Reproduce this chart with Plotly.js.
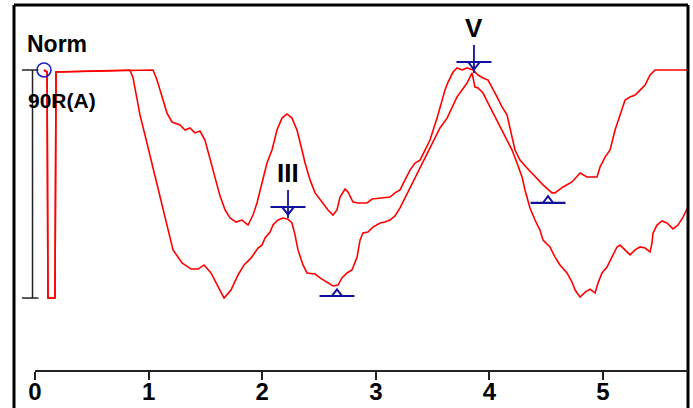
<!DOCTYPE html>
<html>
<head>
<meta charset="utf-8">
<script src="https://cdn.plot.ly/plotly-3.0.1.min.js"></script>
<style>html,body{margin:0;padding:0;background:#fff;}#chart{width:693px;height:408px;}</style>
</head>
<body>
<div id="chart"></div>
<script>
// Time (ms) and normalized amplitude (1 = Norm level, 0 = bottom of 90R(A) scale bar)
var timeA = [0.079,0.106,0.114,0.176,0.185,1.039,1.074,1.127,1.162,1.206,1.276,1.320,1.364,1.408,1.452,1.496,1.540,1.585,1.629,1.673,1.717,1.769,1.822,1.875,1.919,1.954,1.998,2.042,2.086,2.130,2.174,2.218,2.262,2.306,2.350,2.377,2.421,2.465,2.526,2.579,2.623,2.658,2.685,2.729,2.755,2.799,2.843,2.923,2.967,3.037,3.125,3.169,3.213,3.257,3.301,3.345,3.389,3.433,3.477,3.539,3.583,3.609,3.636,3.680,3.715,3.759,3.803,3.856,3.900,3.944,3.988,4.023,4.067,4.111,4.155,4.225,4.269,4.331,4.401,4.472,4.551,4.577,4.648,4.727,4.798,4.859,4.947,4.974,5.018,5.062,5.106,5.150,5.194,5.238,5.282,5.326,5.370,5.414,5.458,5.748];
var ampA  = [1.0,0.991,0,0,0.991,1.0,0.956,0.868,0.811,0.772,0.759,0.737,0.746,0.724,0.732,0.693,0.614,0.526,0.447,0.386,0.351,0.333,0.342,0.320,0.364,0.417,0.504,0.592,0.649,0.737,0.789,0.807,0.789,0.737,0.649,0.592,0.518,0.461,0.421,0.386,0.364,0.386,0.443,0.478,0.465,0.421,0.417,0.417,0.434,0.439,0.443,0.461,0.474,0.518,0.561,0.592,0.605,0.649,0.693,0.789,0.868,0.912,0.947,0.991,1.009,1.0,1.009,1.0,0.978,0.965,0.956,0.925,0.882,0.838,0.803,0.649,0.605,0.570,0.531,0.496,0.461,0.461,0.487,0.509,0.548,0.531,0.531,0.575,0.618,0.649,0.737,0.803,0.868,0.882,0.890,0.912,0.934,0.978,1.0,1.0];

var timeB = [0.079,0.106,0.114,0.176,0.185,0.836,0.863,0.889,0.924,0.968,1.012,1.056,1.100,1.144,1.188,1.215,1.294,1.373,1.435,1.488,1.549,1.611,1.664,1.725,1.787,1.840,1.901,1.963,1.998,2.025,2.069,2.095,2.139,2.183,2.227,2.262,2.289,2.315,2.359,2.394,2.465,2.509,2.579,2.623,2.667,2.702,2.746,2.790,2.835,2.861,2.887,2.931,2.975,3.037,3.081,3.125,3.169,3.213,3.257,3.301,3.345,3.389,3.433,3.477,3.521,3.565,3.627,3.671,3.715,3.759,3.803,3.847,3.873,3.900,3.944,3.988,4.032,4.067,4.199,4.243,4.287,4.313,4.357,4.401,4.445,4.472,4.533,4.577,4.621,4.683,4.727,4.754,4.798,4.842,4.886,4.930,4.956,4.991,5.035,5.079,5.123,5.150,5.194,5.238,5.282,5.326,5.370,5.414,5.431,5.440,5.475,5.519,5.563,5.616,5.660,5.704,5.748];
var ampB  = [1.0,0.991,0,0,0.991,1.0,0.965,0.890,0.803,0.715,0.627,0.539,0.452,0.364,0.276,0.211,0.154,0.127,0.127,0.145,0.110,0.048,0.0,0.035,0.101,0.145,0.175,0.219,0.232,0.263,0.289,0.320,0.342,0.351,0.346,0.329,0.276,0.211,0.145,0.110,0.105,0.088,0.066,0.053,0.057,0.088,0.110,0.123,0.180,0.254,0.285,0.289,0.311,0.329,0.333,0.342,0.360,0.395,0.439,0.482,0.526,0.570,0.614,0.658,0.702,0.746,0.789,0.838,0.882,0.912,0.943,0.987,0.925,0.921,0.899,0.855,0.811,0.781,0.649,0.592,0.531,0.474,0.395,0.342,0.298,0.254,0.224,0.180,0.145,0.110,0.070,0.035,0.004,0.026,0.039,0.022,0.066,0.110,0.136,0.180,0.224,0.232,0.211,0.189,0.211,0.224,0.219,0.202,0.241,0.285,0.320,0.338,0.329,0.303,0.320,0.355,0.399];

var peakLabels = ["III", "V"];
var peakTime   = [2.227, 3.864];
var peakAmp    = [0.399, 1.035];
var troughTime = [2.658, 4.516];
var troughAmp  = [0.009, 0.417];
var normTime = [0.079];
var normAmp  = [1.0];
var tickVals = [0, 1, 2, 3, 4, 5];
var tickText = ["0", "1", "2", "3", "4", "5"];

// layout geometry
var W = 693, H = 408;
var mL = 14, mR = 5, mT = 5, mB = 37;
var xRange = [-0.185, 5.748];
var yRange = [-0.320, 1.285];
var plotH = H - mT - mB;
var dyPx = (yRange[1] - yRange[0]) / plotH; // amplitude per pixel

var blue = "#10109c";
var red = "#ff0000";

function shift(arr, px) { return arr.map(function (v) { return v + px * dyPx; }); }

var traces = [
  {x: timeA, y: ampA, mode: "lines", line: {color: red, width: 1.6}, hoverinfo: "skip"},
  {x: timeB, y: ampB, mode: "lines", line: {color: red, width: 1.6}, hoverinfo: "skip"},
  // peak markers
  {x: peakTime, y: peakAmp, mode: "markers", marker: {symbol: "line-ew", size: 25, color: blue, line: {color: blue, width: 2}}},
  {x: peakTime, y: shift(peakAmp, 3), mode: "markers", marker: {symbol: "line-ns", size: 20, color: blue, line: {color: blue, width: 1.8}}},
  {x: peakTime, y: shift(peakAmp, -2.5), mode: "markers", marker: {symbol: "triangle-down-open", size: 10, color: blue, line: {color: blue, width: 2}}},
  // trough markers
  {x: troughTime, y: troughAmp, mode: "markers", marker: {symbol: "line-ew", size: 25, color: blue, line: {color: blue, width: 2.2}}},
  {x: troughTime, y: shift(troughAmp, 2.2), mode: "markers", marker: {symbol: "triangle-up-open", size: 9, color: blue, line: {color: blue, width: 2}}},
  // norm circle
  {x: normTime, y: normAmp, mode: "markers", marker: {symbol: "circle-open", size: 14, color: "#2020c0", line: {color: "#2020c0", width: 1.6}}}
];

var labelFont = {family: "Liberation Sans, Arial, sans-serif", size: 26, color: "#000", weight: "bold"};

var annotations = peakLabels.map(function (t, i) {
  return {x: peakTime[i], y: peakAmp[i], xref: "x", yref: "y", text: t, showarrow: false,
          yanchor: "bottom", xanchor: "center", yshift: 17, font: labelFont};
});
annotations.push({x: 0.194, y: 1.112, xref: "x", yref: "y", text: "Norm", showarrow: false,
  xanchor: "center", yanchor: "middle", font: {family: "Liberation Sans, Arial, sans-serif", size: 23, color: "#000", weight: "bold"}});
annotations.push({x: 0.238, y: 0.868, xref: "x", yref: "y", text: "90R(A)", showarrow: false,
  xanchor: "center", yanchor: "middle", font: {family: "Liberation Sans, Arial, sans-serif", size: 21, color: "#000", weight: "bold"}});

var shapes = [
  // frame
  {type: "line", xref: "paper", yref: "paper", x0: 0, x1: 0, y0: 1, y1: -0.2, line: {color: "#000", width: 3}},
  {type: "line", xref: "paper", yref: "paper", x0: 0, x1: 1, y0: 1, y1: 1, line: {color: "#000", width: 3}},
  {type: "line", xref: "paper", yref: "paper", x0: 1, x1: 1, y0: 1, y1: -0.2, line: {color: "#000", width: 3}},
  // time axis line starting at 0
  {type: "line", xref: "x", yref: "paper", x0: 0, x1: xRange[1], y0: 0, y1: 0, line: {color: "#222", width: 2}},
  // amplitude scale bar
  {type: "line", xref: "x", yref: "y", x0: -0.022, x1: -0.022, y0: 0, y1: 1, line: {color: "#222", width: 1.5}},
  {type: "line", xref: "x", yref: "y", x0: -0.114, x1: 0.03, y0: 1, y1: 1, line: {color: "#222", width: 1.5}},
  {type: "line", xref: "x", yref: "y", x0: -0.114, x1: 0.03, y0: 0, y1: 0, line: {color: "#222", width: 1.5}}
];

var layout = {
  width: W, height: H,
  margin: {l: mL, r: mR, t: mT, b: mB, pad: 0},
  paper_bgcolor: "#fff", plot_bgcolor: "#fff",
  showlegend: false,
  xaxis: {range: xRange, showgrid: false, zeroline: false, showline: false,
          tickmode: "array", tickvals: tickVals, ticktext: tickText,
          ticks: "outside", ticklen: 8, tickwidth: 2, tickcolor: "#222", ticklabelstandoff: -9,
          tickfont: {family: "Liberation Sans, Arial, sans-serif", size: 24, color: "#000", weight: "bold"}},
  yaxis: {range: yRange, showgrid: false, zeroline: false, showline: false, showticklabels: false, ticks: ""},
  annotations: annotations,
  shapes: shapes
};

Plotly.newPlot("chart", traces, layout, {staticPlot: true, displayModeBar: false});
</script>
</body>
</html>
